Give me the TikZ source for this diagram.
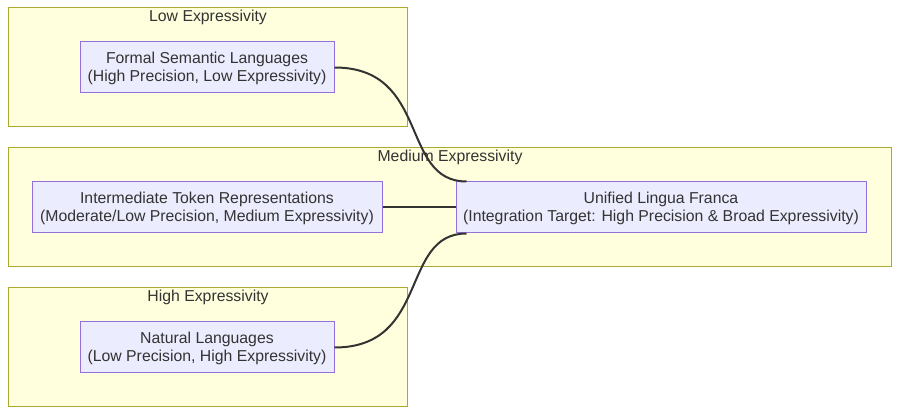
\documentclass[tikz,border=0pt]{standalone}
\usepackage{fontspec}
\setmainfont{Liberation Sans}
\definecolor{clfill}{HTML}{FFFFDE}
\definecolor{cldraw}{HTML}{AAAA33}
\definecolor{ndfill}{HTML}{ECECFF}
\definecolor{nddraw}{HTML}{9370DB}
\definecolor{txt}{HTML}{333333}
\begin{document}
\begin{tikzpicture}[x=1pt,y=-1pt,
  cluster/.style={draw=cldraw,fill=clfill,line width=1pt},
  cltitle/.style={text=txt,font=\fontsize{15.8}{18}\selectfont,inner sep=0pt},
  box/.style={draw=nddraw,fill=ndfill,line width=1pt,text=txt,align=center,
    font=\fontsize{15.8}{18}\selectfont,inner sep=0pt,text depth=1.5pt},
  link/.style={draw=txt,line width=2pt}]
\useasboundingbox (0,0) rectangle (908,419);
\fill[white] (0,0) rectangle (908,419);
% clusters
\draw[cluster] (8,8) rectangle (407,127);
\draw[cluster] (8,148) rectangle (891,267);
\draw[cluster] (8,288) rectangle (407,407);
\node[cltitle] (tlow) at (208,17) {Low Expressivity};
\node[cltitle] (tmed) at (450,157) {Medium Expressivity};
\node[cltitle] (thigh) at (208,297) {High Expressivity};
% nodes
\node[box,minimum width=254pt,minimum height=51pt] (formal) at (207,67.5)
  {Formal Semantic Languages\\(High Precision, Low Expressivity)};
\node[box,minimum width=350pt,minimum height=51pt] (inter) at (207,207.5)
  {Intermediate Token Representations\\(Moderate/Low Precision, Medium Expressivity)};
\node[box,minimum width=254pt,minimum height=51pt] (natural) at (207,347.5)
  {Natural Languages\\(Low Precision, High Expressivity)};
\node[box,minimum width=410pt,minimum height=51pt] (unified) at (661,207.5)
  {Unified Lingua Franca\\(Integration Target: High Precision \& Broad Expressivity)};
% connectors
\coordinate (utop) at ([xshift=11pt]unified.north west);
\coordinate (ubot) at ([xshift=11pt]unified.south west);
\draw[link] (formal.east) .. controls +(96,0) and +(-67,0) .. (utop);
\draw[link] (inter.east) -- (unified.west);
\draw[link] (natural.east) .. controls +(96,0) and +(-67,0) .. (ubot);
\end{tikzpicture}
\end{document}
